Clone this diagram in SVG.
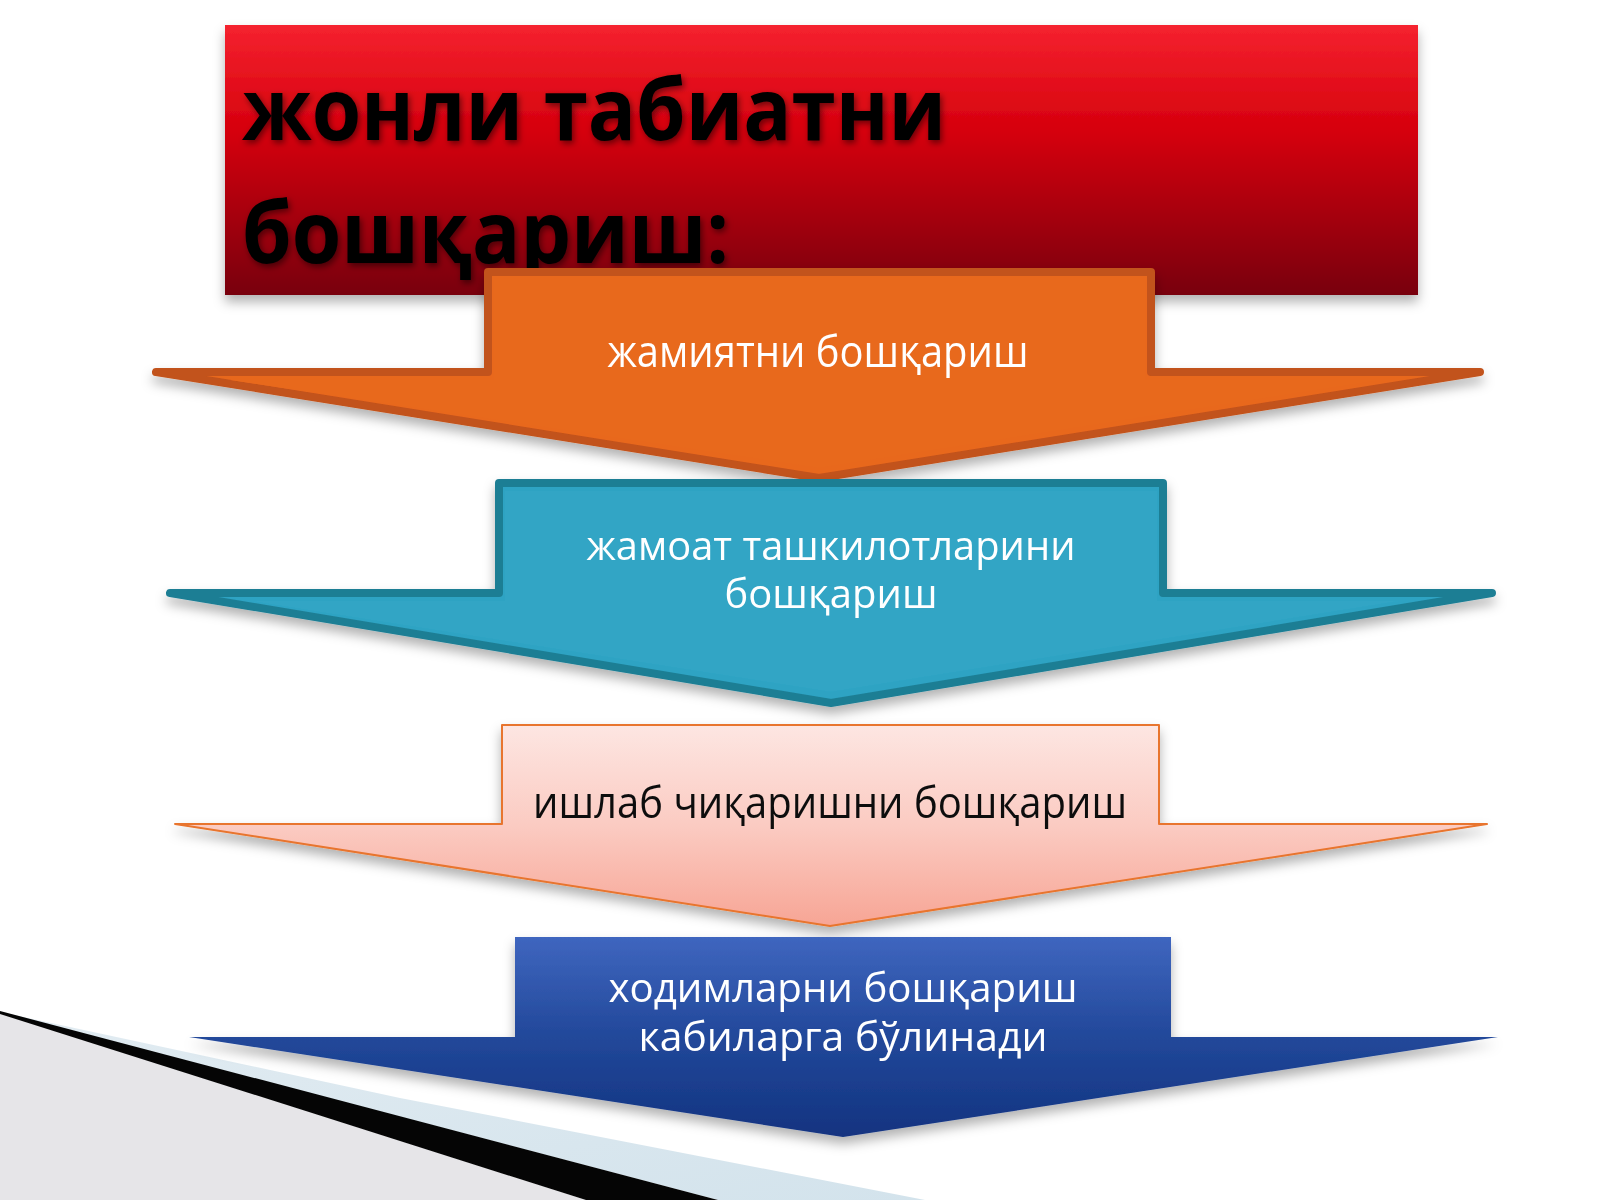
<svg xmlns="http://www.w3.org/2000/svg" width="1600" height="1200" viewBox="0 0 1600 1200">
  <defs>
    <linearGradient id="gRed" x1="0" y1="0" x2="0" y2="1">
      <stop offset="0" stop-color="#F5222F"/>
      <stop offset="0.4" stop-color="#D5000C"/>
      <stop offset="1" stop-color="#78000C"/>
    </linearGradient>
    <linearGradient id="gPink" x1="0" y1="0" x2="0" y2="1">
      <stop offset="0" stop-color="#FDE6E2"/>
      <stop offset="0.5" stop-color="#FBCBC2"/>
      <stop offset="1" stop-color="#F7A595"/>
    </linearGradient>
    <linearGradient id="gBlue" x1="0" y1="0" x2="0" y2="1">
      <stop offset="0" stop-color="#3F66BF"/>
      <stop offset="0.5" stop-color="#22489A"/>
      <stop offset="1" stop-color="#123380"/>
    </linearGradient>
    <linearGradient id="gStripe" x1="0" y1="0" x2="1" y2="1">
      <stop offset="0" stop-color="#E2ECF2"/>
      <stop offset="1" stop-color="#D3E3EC"/>
    </linearGradient>
    <filter id="shadow" x="-10%" y="-10%" width="120%" height="140%">
      <feDropShadow dx="0" dy="7" stdDeviation="6" flood-color="#000" flood-opacity="0.3"/>
    </filter>
    <filter id="tshadow" x="-5%" y="-20%" width="110%" height="140%">
      <feDropShadow dx="2" dy="3" stdDeviation="3" flood-color="#000" flood-opacity="0.5"/>
    </filter>
    <style>
      .lbl { font-family: "Open Sans", "Noto Sans", "DejaVu Sans", sans-serif; font-size: 44px; text-anchor: middle; }
      .two { font-size: 41px; }
      .white { fill: #FFFFFF; }
      .dark { fill: #111111; }
      .title { font-family: "Open Sans", "Noto Sans", "DejaVu Sans", sans-serif; font-weight: 700; font-size: 86px; fill: #000; }
    </style>
  </defs>

  <rect x="0" y="0" width="1600" height="1200" fill="#FFFFFF"/>

  <g id="decoration">
    <polygon points="0,1013 586,1200 0,1200" fill="#E6E5E8"/>
    <polygon points="0,1012 400,1098 925,1200 718,1200" fill="url(#gStripe)"/>
    <polygon points="0,1011 718,1200 586,1200 0,1014" fill="#050505"/>
  </g>

  <g id="title">
    <rect x="225" y="25" width="1193" height="270" fill="url(#gRed)" filter="url(#shadow)"/>
    <g filter="url(#tshadow)">
      <text class="title" x="242" y="140" textLength="704" lengthAdjust="spacingAndGlyphs">жонли табиатни</text>
      <text class="title" x="242" y="263" textLength="487" lengthAdjust="spacingAndGlyphs">бошқариш:</text>
    </g>
  </g>

  <g id="node-jamiyat" filter="url(#shadow)">
    <polygon points="488,272 1151,272 1151,372 1480,372 819,478 156,372 488,372" fill="#E8681F" stroke="#C2521A" stroke-width="8" stroke-linejoin="round"/>
    <polygon points="494,280 1145,280 1145,380 1380,380 819,468 230,380 494,380" fill="#E8691F"/>
    <text class="lbl white" x="818" y="367" textLength="421" lengthAdjust="spacingAndGlyphs">жамиятни бошқариш</text>
  </g>

  <g id="node-jamoat" filter="url(#shadow)">
    <polygon points="499,483 1163,483 1163,593 1492,593 831,703 170,593 499,593" fill="#2EA3C3" stroke="#1E7E94" stroke-width="8" stroke-linejoin="round"/>
    <polygon points="505,491 1157,491 1157,601 1400,601 831,692 250,601 505,601" fill="#30A5C5"/>
    <text class="lbl two white"><tspan x="831" y="560" textLength="489" lengthAdjust="spacingAndGlyphs">жамоат ташкилотларини</tspan><tspan x="831" y="608" textLength="213" lengthAdjust="spacingAndGlyphs">бошқариш</tspan></text>
  </g>

  <g id="node-ishlab" filter="url(#shadow)">
    <polygon points="502,725 1159,725 1159,824 1487,824 830,926 175,824 502,824" fill="url(#gPink)" stroke="#E8742E" stroke-width="2" stroke-linejoin="round"/>
    <text class="lbl dark" x="830" y="818" textLength="594" lengthAdjust="spacingAndGlyphs">ишлаб чиқаришни бошқариш</text>
  </g>

  <g id="node-xodim" filter="url(#shadow)">
    <polygon points="515,937 1171,937 1171,1037 1498,1037 843,1137 189,1037 515,1037" fill="url(#gBlue)"/>
    <text class="lbl two white"><tspan x="843" y="1002" textLength="469" lengthAdjust="spacingAndGlyphs">ходимларни бошқариш</tspan><tspan x="843" y="1051" textLength="409" lengthAdjust="spacingAndGlyphs">кабиларга бўлинади</tspan></text>
  </g>

  <g id="connectors"/>
</svg>
